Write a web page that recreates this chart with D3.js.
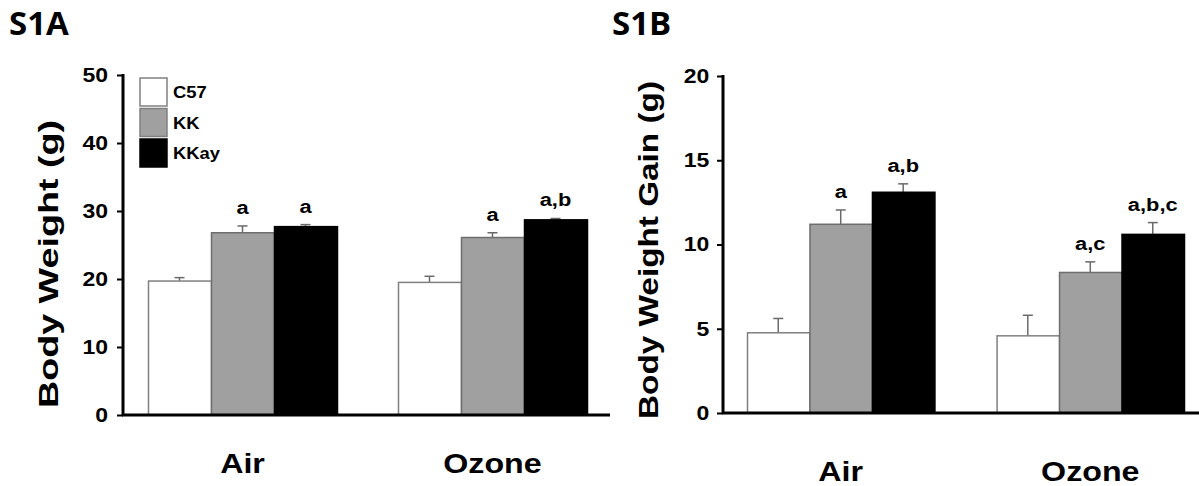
<!DOCTYPE html>
<html>
<head>
<meta charset="utf-8">
<script src="https://cdn.jsdelivr.net/npm/d3@7"></script>
<style>
  body { margin: 0; background: #fff; }
  text { font-family: "Liberation Sans", Arial, sans-serif; font-weight: bold; fill: #000; }
  .panel-title { font-family: "Open Sans", sans-serif; font-weight: 700; }
</style>
</head>
<body>
<div id="main"></div>
<script>
// categories and series
const groups = ["Air", "Ozone"];
const strains = ["C57", "KK", "KKay"];
const strainFill = ["#ffffff", "#a0a0a0", "#000000"];
const strainStroke = ["#808080", "#6e6e6e", "#000000"];

// S1A body weight (g), per group: [C57, KK, KKay]
const weightMean = [[19.7, 26.8, 27.7], [19.5, 26.1, 28.7]];
const weightSE = [[0.5, 1.0, 0.3], [0.9, 0.7, 0.2]];
const weightSig = [["", "a", "a"], ["", "a", "a,b"]];
const weightTicks = [0, 10, 20, 30, 40, 50];

// S1B body weight gain (g)
const gainMean = [[4.76, 11.2, 13.1], [4.58, 8.34, 10.6]];
const gainSE = [[0.85, 0.85, 0.5], [1.22, 0.63, 0.7]];
const gainSig = [["", "a", "a,b"], ["", "a,c", "a,b,c"]];
const gainTicks = [0, 5, 10, 15, 20];

const W = 1199, H = 486;
const SX = 1.15; // horizontal stretch of the original lettering

const svg = d3.select("#main").append("svg")
  .attr("width", W).attr("height", H);

function hText(g, x, y, str, size, anchor) {
  return g.append("text")
    .attr("transform", "translate(" + x + "," + y + ") scale(" + SX + ",1)")
    .attr("text-anchor", anchor || "middle")
    .style("font-size", size + "px")
    .text(str);
}

function drawPanel(cfg) {
  const g = svg.append("g");

  const y = d3.scaleLinear().domain([0, cfg.max]).range([cfg.y0, cfg.y1]);
  const x = d3.scaleBand().domain(groups).range([cfg.barsX0, cfg.barsX1])
    .paddingInner(cfg.padIn).paddingOuter(0);
  const xs = d3.scaleBand().domain(strains).range([0, x.bandwidth()]);

  // y axis
  const yAxis = d3.axisLeft(y).tickValues(cfg.ticks).tickSize(6).tickSizeOuter(0).tickPadding(cfg.tickPad);
  const ya = g.append("g")
    .attr("transform", "translate(" + cfg.axisX + ",0)")
    .call(yAxis);
  ya.select(".domain").attr("stroke-width", 3).attr("d", "M0," + (cfg.y1 - 1) + "V" + (cfg.y0 + 1));
  ya.selectAll(".tick line").attr("stroke-width", 2);
  ya.selectAll(".tick text")
    .style("font-size", "20px")
    .attr("font-family", null)
    .attr("transform", "scale(" + SX + ",1)");

  // bars
  const rows = [];
  groups.forEach((grp, gi) => {
    strains.forEach((s, si) => {
      rows.push({grp: grp, s: s, si: si, m: cfg.mean[gi][si], se: cfg.se[gi][si], sig: cfg.sig[gi][si]});
    });
  });

  // error bars (upper only)
  const err = g.append("g").attr("stroke", "#6a6a6a").attr("stroke-width", 1.5);
  rows.forEach(d => {
    const cx = x(d.grp) + xs(d.s) + xs.bandwidth() / 2;
    err.append("line").attr("x1", cx).attr("x2", cx).attr("y1", y(d.m)).attr("y2", y(d.m + d.se));
    err.append("line").attr("x1", cx - 5).attr("x2", cx + 5).attr("y1", y(d.m + d.se)).attr("y2", y(d.m + d.se));
  });

  g.append("g").selectAll("rect")
    .data(rows)
    .enter()
    .append("rect")
    .attr("x", d => x(d.grp) + xs(d.s) + 0.5)
    .attr("y", d => y(d.m))
    .attr("width", xs.bandwidth())
    .attr("height", d => y(0) - y(d.m))
    .attr("fill", d => strainFill[d.si])
    .attr("stroke", d => strainStroke[d.si])
    .attr("stroke-width", 1.5);

  // significance letters
  rows.filter(d => d.sig).forEach(d => {
    const cx = x(d.grp) + xs(d.s) + xs.bandwidth() / 2;
    hText(g, cx, y(d.m + d.se) - 12, d.sig, 19);
  });

  // x axis line
  g.append("line")
    .attr("x1", cfg.axisX - 1).attr("x2", cfg.axisX1)
    .attr("y1", cfg.y0).attr("y2", cfg.y0)
    .attr("stroke", "#000").attr("stroke-width", 3);

  // group labels
  groups.forEach(grp => {
    hText(g, x(grp) + x.bandwidth() / 2, cfg.catY, grp, 28);
  });

  // y title
  g.append("text")
    .attr("transform", "translate(" + cfg.titleX + "," + cfg.titleY + ") rotate(-90)")
    .attr("text-anchor", "middle")
    .attr("textLength", cfg.titleLen)
    .attr("lengthAdjust", "spacingAndGlyphs")
    .style("font-size", "28px")
    .text(cfg.title);

  // panel label
  g.append("text")
    .attr("class", "panel-title")
    .attr("x", cfg.labelX).attr("y", 35)
    .style("font-size", "33px")
    .text(cfg.label);

  return {g: g, x: x, y: y};
}

const left = drawPanel({
  max: 50, y0: 415, y1: 75, ticks: weightTicks, tickPad: 7,
  axisX: 123, axisX1: 610, barsX0: 148, barsX1: 587, padIn: 0.244,
  mean: weightMean, se: weightSE, sig: weightSig,
  catY: 473, title: "Body Weight (g)", titleX: 58, titleY: 264, titleLen: 288,
  label: "S1A", labelX: 9
});

drawPanel({
  max: 20, y0: 413, y1: 76, ticks: gainTicks, tickPad: 6,
  axisX: 723, axisX1: 1199, barsX0: 747, barsX1: 1184, padIn: 0.249,
  mean: gainMean, se: gainSE, sig: gainSig,
  catY: 481, title: "Body Weight Gain (g)", titleX: 658, titleY: 250, titleLen: 338,
  label: "S1B", labelX: 612
});

// legend (left panel)
const legend = left.g.append("g");
strains.forEach((s, i) => {
  const ly = 78 + i * 30.5;
  legend.append("rect")
    .attr("x", 140).attr("y", ly)
    .attr("width", 27).attr("height", 28)
    .attr("fill", strainFill[i])
    .attr("stroke", i === 2 ? "#000" : "#808080")
    .attr("stroke-width", 1.5);
  hText(legend, 173, ly + 20, s, 16, "start");
});
</script>
</body>
</html>
